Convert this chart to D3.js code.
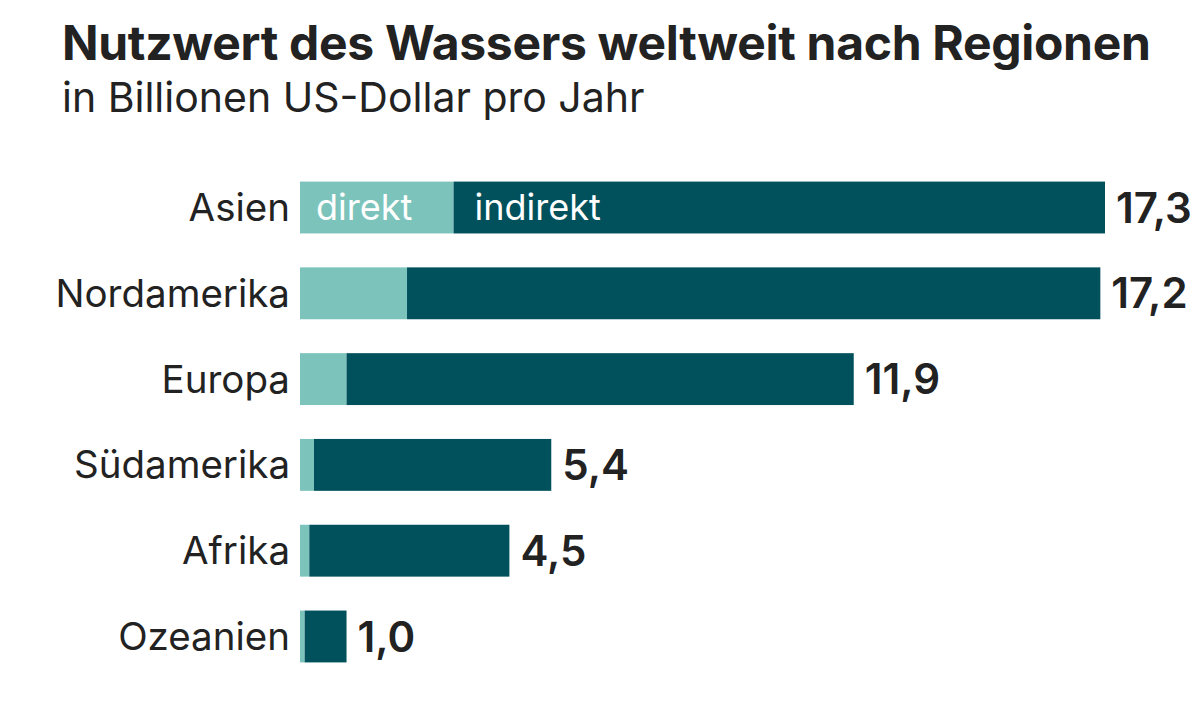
<!DOCTYPE html>
<html><head><meta charset="utf-8">
<script src="https://cdn.jsdelivr.net/npm/d3@7/dist/d3.min.js"></script>
<style>body{margin:0;background:#fff}svg{display:block}</style>
</head><body>
<script>
const regions = ["Asien","Nordamerika","Europa","Südamerika","Afrika","Ozeanien"];
const direkt = [3.3, 2.3, 1.0, 0.3, 0.2, 0.1];
const indirekt = [14.0, 14.9, 10.9, 5.1, 4.3, 0.9];
const totals = [17.3, 17.2, 11.9, 5.4, 4.5, 1.0];

const W = 1200, H = 725;
const svg = d3.select("body").append("svg").attr("width", W).attr("height", H);
const font = "Inter, 'Noto Sans', sans-serif";

svg.append("text").attr("x", 62).attr("y", 60)
  .attr("font-family", font).attr("font-weight", 700).attr("font-size", 48)
  .attr("fill", "#222").attr("letter-spacing", -0.3)
  .text("Nutzwert des Wassers weltweit nach Regionen");
svg.append("text").attr("x", 62).attr("y", 112)
  .attr("font-family", font).attr("font-weight", 400).attr("font-size", 41)
  .attr("fill", "#222")
  .text("in Billionen US-Dollar pro Jahr");

const x = d3.scaleLinear().domain([0, 17.3]).range([300, 1105]);
const y = d3.scaleBand().domain(regions).range([167, 677]).paddingInner(34/86).paddingOuter(0.17);

const g = svg.append("g");
const rows = g.selectAll("g.row").data(regions).join("g").attr("class","row");

rows.append("rect")
  .attr("x", (d,i) => x(0)).attr("y", d => y(d))
  .attr("width", (d,i) => x(direkt[i]) - x(0)).attr("height", y.bandwidth())
  .attr("fill", "#7cc4bb");
rows.append("rect")
  .attr("x", (d,i) => x(direkt[i])).attr("y", d => y(d))
  .attr("width", (d,i) => x(direkt[i] + indirekt[i]) - x(direkt[i])).attr("height", y.bandwidth())
  .attr("fill", "#00515c");

rows.append("text")
  .attr("x", 290).attr("y", d => y(d) + y.bandwidth()/2)
  .attr("dy", "0.35em").attr("text-anchor", "end")
  .attr("font-family", font).attr("font-size", 38.5).attr("fill", "#222")
  .text(d => d);

const fmt = v => d3.format(".1f")(v).replace(".", ",");
rows.append("text")
  .attr("x", (d,i) => x(totals[i]) + 11).attr("y", d => y(d) + y.bandwidth()/2)
  .attr("dy", "0.36em").attr("text-anchor", "start")
  .attr("font-family", font).attr("font-weight", 600).attr("font-size", 42).attr("fill", "#222")
  .text((d,i) => fmt(totals[i]));

const r0 = regions[0];
g.append("text").attr("x", x(0) + 16).attr("y", y(r0) + y.bandwidth()/2).attr("dy","0.35em")
  .attr("font-family", font).attr("font-size", 36).attr("fill", "#fff").text("direkt");
g.append("text").attr("x", x(direkt[0]) + 21).attr("y", y(r0) + y.bandwidth()/2).attr("dy","0.35em")
  .attr("font-family", font).attr("font-size", 36).attr("fill", "#fff").text("indirekt");
</script>
</body></html>
